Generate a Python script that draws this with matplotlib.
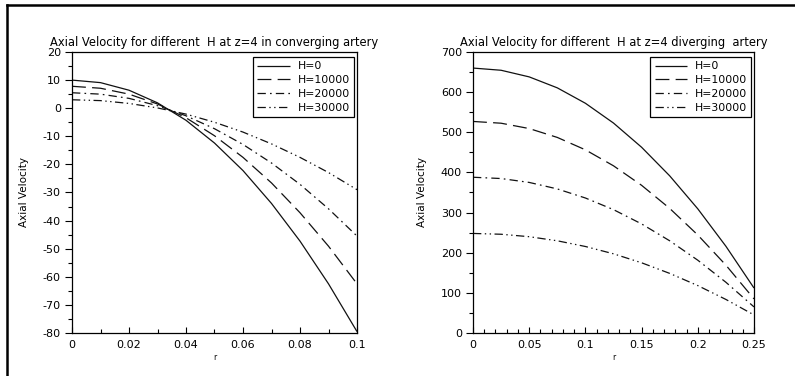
import matplotlib
matplotlib.use("Agg")
from matplotlib import pyplot as plt
from matplotlib.lines import Line2D
from matplotlib.ticker import MultipleLocator, FormatStrFormatter

plt.rcParams['font.family'] = ['DejaVu Sans']
plt.rcParams['lines.scale_dashes'] = False
plt.rcParams['axes.unicode_minus'] = False

# -- converging artery, z=4
r_conv = [0.0, 0.01, 0.02, 0.03, 0.04, 0.05, 0.06, 0.07, 0.08, 0.09, 0.1]
u_conv_h0 = [10.0, 9.1, 6.4, 1.9, -4.3, -12.4, -22.2, -33.9, -47.3, -62.5, -79.5]
u_conv_h10000 = [7.8, 7.1, 5.0, 1.5, -3.4, -9.8, -17.5, -26.6, -37.2, -49.1, -62.5]
u_conv_h20000 = [5.5, 5.0, 3.5, 0.9, -2.7, -7.3, -12.9, -19.5, -27.1, -35.8, -45.5]
u_conv_h30000 = [3.0, 2.7, 1.7, 0.1, -2.1, -5.0, -8.5, -12.7, -17.5, -22.9, -29.0]

# -- diverging artery, z=4
r_div = [0.0, 0.025, 0.05, 0.075, 0.1, 0.125, 0.15, 0.175, 0.2, 0.225, 0.25]
u_div_h0 = [660, 654.5, 638, 610.7, 572.3, 523, 462.7, 391.5, 309.3, 216.1, 112]
u_div_h10000 = [527, 522.6, 509.3, 487.2, 456.3, 416.5, 367.9, 310.4, 244.1, 169, 85]
u_div_h20000 = [388, 384.8, 375.1, 358.9, 336.3, 307.3, 271.7, 229.7, 181.3, 126.4, 65]
u_div_h30000 = [248, 246, 239.9, 229.7, 215.5, 197.3, 174.9, 148.5, 118.1, 83.6, 45]

labels = ['H=0', 'H=10000', 'H=20000', 'H=30000']
dash_styles = [(0, ()),
               (0, (10, 4.5)),
               (0, (6, 3, 1.2, 3)),
               (0, (6, 2.5, 1, 2.5, 1, 2.5))]

fig = plt.figure(figsize=(7.95, 3.76), dpi=100)
fig.patch.set_facecolor('white')

ax1 = fig.add_axes([72 / 795, 43 / 376, 285 / 795, 281 / 376])
ax2 = fig.add_axes([473 / 795, 43 / 376, 281 / 795, 281 / 376])


def style_axes(ax, title, xmaj, xmin, ymaj, ymin):
    ax.set_title(title, fontsize=8.3, pad=4)
    ax.set_xlabel('r', fontsize=5.5, labelpad=2)
    ax.set_ylabel('Axial Velocity', fontsize=7.5,
                  family=['Liberation Sans Narrow', 'DejaVu Sans'], labelpad=10)
    ax.xaxis.set_major_locator(MultipleLocator(xmaj))
    ax.xaxis.set_minor_locator(MultipleLocator(xmin))
    ax.xaxis.set_major_formatter(FormatStrFormatter('%g'))
    ax.yaxis.set_major_locator(MultipleLocator(ymaj))
    ax.yaxis.set_minor_locator(MultipleLocator(ymin))
    ax.yaxis.set_major_formatter(FormatStrFormatter('%g'))
    ax.tick_params(axis='x', which='major', direction='in', length=4,
                   width=0.8, labelsize=8, pad=5)
    ax.tick_params(axis='x', which='minor', direction='in', length=3, width=0.8)
    ax.tick_params(axis='y', which='major', direction='out', length=5,
                   width=0.8, labelsize=8, pad=3)
    ax.tick_params(axis='y', which='minor', direction='out', length=3, width=0.8)
    for sp in ax.spines.values():
        sp.set_linewidth(0.9)
    leg = ax.legend(loc='upper right', bbox_to_anchor=(0.99, 0.982),
                    fontsize=7.8, handlelength=3.0, handletextpad=0.7,
                    labelspacing=0.35, borderpad=0.4, fancybox=False,
                    framealpha=1, edgecolor='black', borderaxespad=0)
    leg.get_frame().set_linewidth(0.9)


series_conv = [u_conv_h0, u_conv_h10000, u_conv_h20000, u_conv_h30000]
for u, lab, ls in zip(series_conv, labels, dash_styles):
    ax1.plot(r_conv, u, color='#111111', lw=0.9, linestyle=ls, label=lab)
ax1.set_xlim(0, 0.1)
ax1.set_ylim(-80, 20)
style_axes(ax1, 'Axial Velocity for different  H at z=4 in converging artery',
           0.02, 0.01, 10, 5)

series_div = [u_div_h0, u_div_h10000, u_div_h20000, u_div_h30000]
for u, lab, ls in zip(series_div, labels, dash_styles):
    ax2.plot(r_div, u, color='#111111', lw=0.9, linestyle=ls, label=lab)
ax2.set_xlim(0, 0.25)
ax2.set_ylim(0, 700)
style_axes(ax2, 'Axial Velocity for different  H at z=4 diverging  artery',
           0.05, 0.01, 100, 50)

# page frame around both panels
fig.add_artist(Line2D([7 / 795, 7 / 795], [0, 371 / 376], color='black', lw=1.8))
fig.add_artist(Line2D([7 / 795, 1], [371 / 376, 371 / 376], color='black', lw=1.8))

fig.savefig('out.png', dpi=100)
